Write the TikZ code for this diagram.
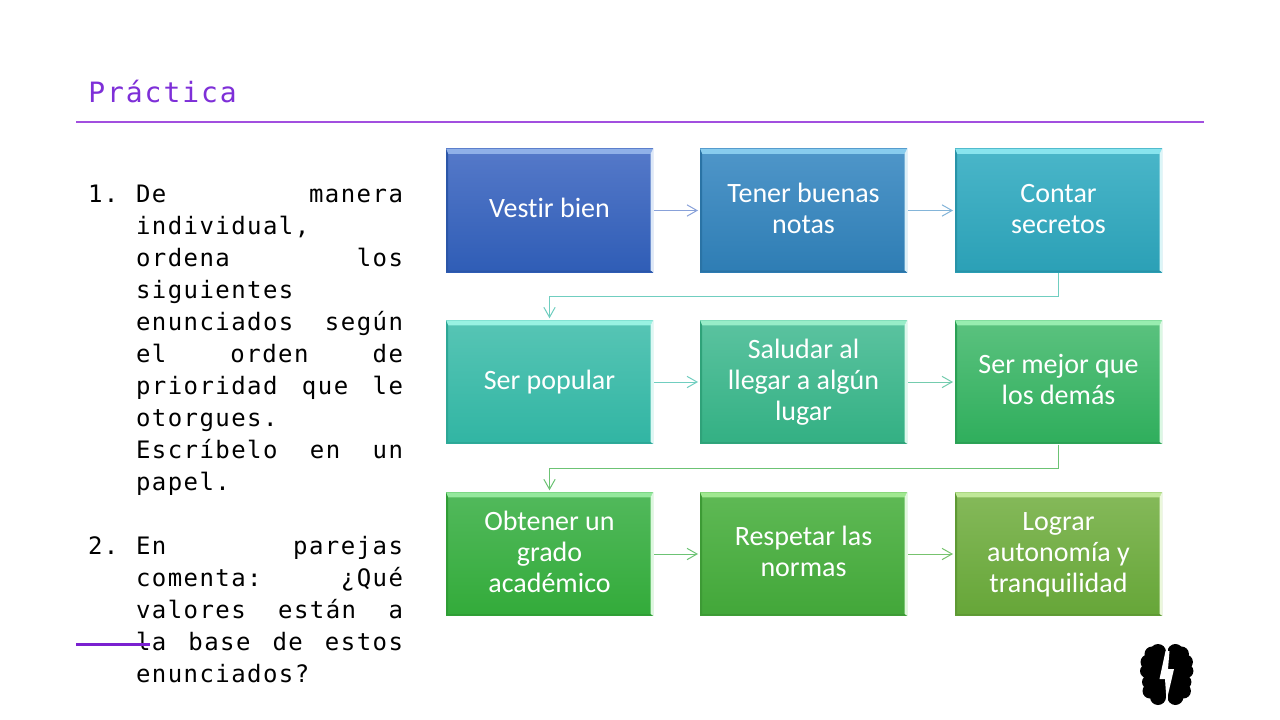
\documentclass[tikz,border=0pt]{standalone}
\usepackage{fontspec}
\setmainfont{Carlito}[Ligatures=NoCommon]
\newfontfamily\lstfont[LetterSpace=6]{DejaVu Sans Mono}
\newfontfamily\ttlfont[LetterSpace=7]{DejaVu Sans Mono}
\usetikzlibrary{arrows.meta,calc}
\definecolor{ttlc}{HTML}{7E2FD8}
\definecolor{rulea}{HTML}{A24FDF}
\definecolor{ruleb}{HTML}{7A20D0}
\definecolor{aT}{HTML}{5579C9}\definecolor{aB}{HTML}{2F5DB6}\definecolor{aL}{HTML}{8FB0E8}\definecolor{aR}{HTML}{DCE8F8}
\definecolor{bT}{HTML}{4F96C9}\definecolor{bB}{HTML}{2E7DB4}\definecolor{bL}{HTML}{88CCEE}\definecolor{bR}{HTML}{DCF0F8}
\definecolor{cT}{HTML}{4AB6C9}\definecolor{cB}{HTML}{2BA0B6}\definecolor{cL}{HTML}{88E4EE}\definecolor{cR}{HTML}{DCF6F8}
\definecolor{dT}{HTML}{57C5B5}\definecolor{dB}{HTML}{31B5A3}\definecolor{dL}{HTML}{98F2E2}\definecolor{dR}{HTML}{DCF8F4}
\definecolor{eT}{HTML}{5BC3A0}\definecolor{eB}{HTML}{33B083}\definecolor{eL}{HTML}{98EDC8}\definecolor{eR}{HTML}{DCF8EC}
\definecolor{fT}{HTML}{5BC27F}\definecolor{fB}{HTML}{2FAE5C}\definecolor{fL}{HTML}{98EDB0}\definecolor{fR}{HTML}{DCF8E4}
\definecolor{gT}{HTML}{52B95C}\definecolor{gB}{HTML}{33AB3A}\definecolor{gL}{HTML}{94E89C}\definecolor{gR}{HTML}{DCF8DE}
\definecolor{hT}{HTML}{5FB955}\definecolor{hB}{HTML}{42A739}\definecolor{hL}{HTML}{A0E890}\definecolor{hR}{HTML}{E0F8DC}
\definecolor{iT}{HTML}{85B95A}\definecolor{iB}{HTML}{66A638}\definecolor{iL}{HTML}{C0E898}\definecolor{iR}{HTML}{ECF8DC}
\newcommand{\jl}[1]{\makebox[200.25pt][s]{#1}}
\newcommand{\bt}[1]{\raisebox{-0.8pt}[\height][\depth]{\begin{tabular}{@{}c@{}}#1\end{tabular}}}
\newcommand{\brainlobe}{%
  \fill[black] (1149,652) rectangle (1165.5,697);
  \foreach \cx/\cy/\cr in {1158/652/8,1152/654/7.5,1148/662/7.5,1147/671/7,1149/682/7,1150/691/7.5,1158/697/8}
    {\fill[black] (\cx,\cy) circle (\cr);}
}
\tikzset{
  x=0.75pt,y=-0.75pt,
  txtline/.style={anchor=base west,inner sep=0pt,outer sep=0pt,font=\lstfont\fontsize{18}{20}\selectfont,text=black},
  bevelbox/.style={
    minimum width=155.25pt,minimum height=92.6pt,inner sep=0pt,outer sep=0pt,
    text=white,font=\fontsize{21}{23.25}\selectfont,
    top color=#1T,bottom color=#1B,
    path picture={
      \coordinate (nw) at (path picture bounding box.north west);
      \coordinate (se) at (path picture bounding box.south east);
      \fill[#1L] (nw) -- (nw-|se) -- ($(nw-|se)+(-2.5,5)$) -- ($(nw)+(2,5)$) -- cycle;
      \fill[#1R] (nw-|se) -- (se) -- ($(se)+(-2.5,-1.5)$) -- ($(nw-|se)+(-2.5,5)$) -- cycle;
      \fill[#1B!92!black] (nw) -- ($(nw)+(2,5)$) -- ($(nw|-se)+(2,-1.5)$) -- (nw|-se) -- cycle;
      \fill[#1B!92!black] (se) -- (nw|-se) -- ($(nw|-se)+(2,-1.5)$) -- ($(se)+(-2.5,-1.5)$) -- cycle;
    }},
  link/.style={draw=#1,line width=0.75pt,-{Straight Barb[length=7.5pt,width=8.5pt,line width=0.75pt]},shorten >=1.5pt,shorten <=0.75pt},
}
\begin{document}
\begin{tikzpicture}
\useasboundingbox (0,0) rectangle (1280,720);
\fill[white] (0,0) rectangle (1280,720);

\node[anchor=base west,inner sep=0pt,font=\ttlfont\fontsize{21}{24}\selectfont,text=ttlc] (title) at (88,103) {Práctica};
\coordinate (ruleAa) at (76,122.5);
\coordinate (ruleAb) at (1204,122.5);
\draw[rulea,line width=1.5pt] (ruleAa) -- (ruleAb);

% list
\node[txtline] (n1) at (88,202.5) {1.};
\node[txtline] (a1) at (136,202.5) {\jl{De manera}};
\node[txtline] (a2) at (136,234.5) {individual,};
\node[txtline] (a3) at (136,266.5) {\jl{ordena los}};
\node[txtline] (a4) at (136,298.5) {siguientes};
\node[txtline] (a5) at (136,330.5) {\jl{enunciados según}};
\node[txtline] (a6) at (136,362.5) {\jl{el orden de}};
\node[txtline] (a7) at (136,394.5) {\jl{prioridad que le}};
\node[txtline] (a8) at (136,426.5) {otorgues.};
\node[txtline] (a9) at (136,458.5) {\jl{Escríbelo en un}};
\node[txtline] (a10) at (136,490.5) {papel.};
\node[txtline] (n2) at (88,554.5) {2.};
\node[txtline] (b1) at (136,554.5) {\jl{En parejas}};
\node[txtline] (b2) at (136,586.5) {\jl{comenta: ¿Qué}};
\node[txtline] (b3) at (136,618.5) {\jl{valores están a}};
\node[txtline] (b4) at (136,650.5) {\jl{la base de estos}};
\node[txtline] (b5) at (136,682.5) {enunciados?};

\coordinate (ruleBa) at (76,644);
\coordinate (ruleBb) at (150,644);
\draw[ruleb,line width=2.25pt] (ruleBa) -- (ruleBb);

% boxes
\node[bevelbox=a] (A) at (549.5,210.5) {\bt{Vestir bien}};
\node[bevelbox=b] (B) at (803.5,210.5) {\bt{Tener buenas\\notas}};
\node[bevelbox=c] (C) at (1058.5,210.5) {\bt{Contar\\secretos}};
\node[bevelbox=d] (D) at (549.5,382) {\bt{Ser popular}};
\node[bevelbox=e] (E) at (803.5,382) {\bt{Saludar al\\llegar a algún\\lugar}};
\node[bevelbox=f] (F) at (1058.5,382) {\bt{Ser mejor que\\los demás}};
\node[bevelbox=g] (G) at (549.5,554) {\bt{Obtener un\\grado\\académico}};
\node[bevelbox=h] (H) at (803.5,554) {\bt{Respetar las\\normas}};
\node[bevelbox=i] (I) at (1058.5,554) {\bt{Lograr\\autonomía y\\tranquilidad}};

% connectors
\coordinate (bendA) at (800,296.5);
\coordinate (bendB) at (800,468.5);
\draw[link=aT!70!white] (A) -- (B);
\draw[link=bT!70!white] (B) -- (C);
\draw[link=dT!85!white] (C.south) |- (bendA) -| (D.north);
\draw[link=dT!85!white] (D) -- (E);
\draw[link=eT!85!white] (E) -- (F);
\draw[link=gT!85!white] (F.south) |- (bendB) -| (G.north);
\draw[link=gT!85!white] (G) -- (H);
\draw[link=hT!85!white] (H) -- (I);

% brain icon
\brainlobe
\begin{scope}[cm={-1,0,0,1,(2333.4,0)}]
\brainlobe
\end{scope}
\fill[white] (1165.5,640) rectangle (1167.9,710);
\fill[white] (1165.5,651) -- (1159.5,679) -- (1165,679) -- (1166.5,701) -- (1174,669) -- (1168,669) -- (1169.5,651) -- cycle;
\end{tikzpicture}
\end{document}
